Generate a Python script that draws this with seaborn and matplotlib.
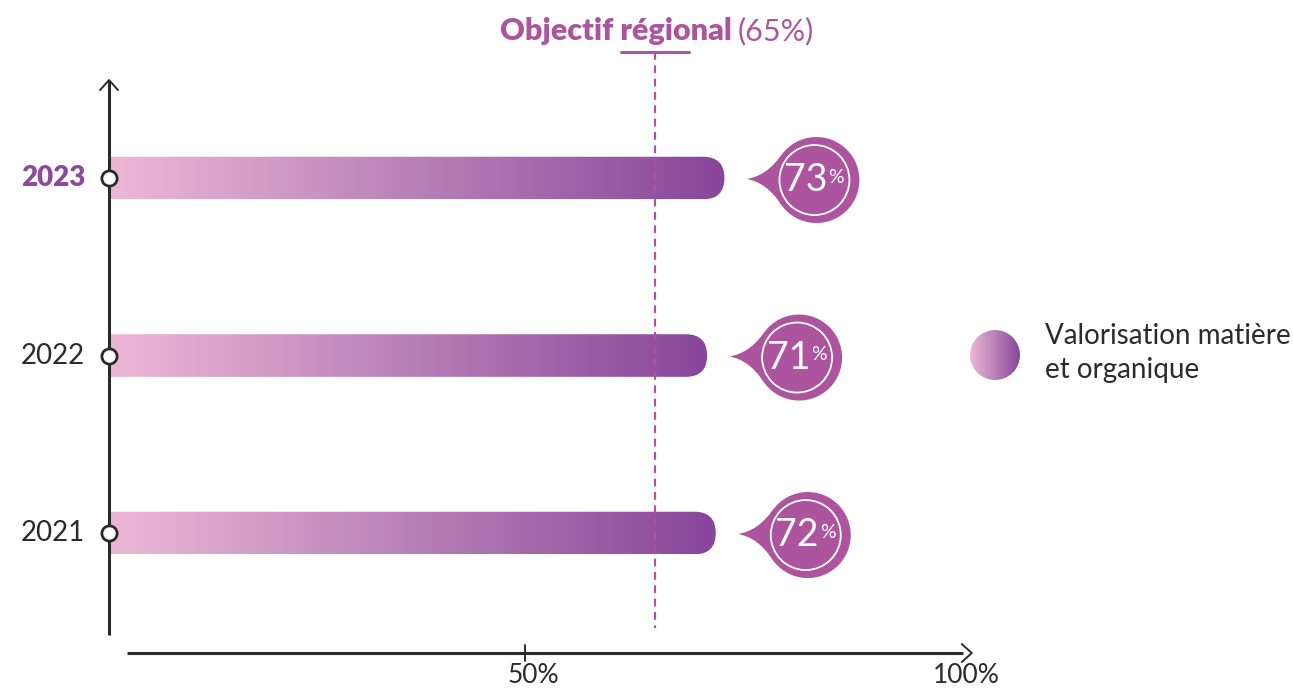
import matplotlib
matplotlib.use('Agg')
import matplotlib.pyplot as plt
import matplotlib.transforms as mtransforms
from matplotlib.patches import Circle, FancyBboxPatch, PathPatch
from matplotlib.path import Path
from matplotlib.colors import LinearSegmentedColormap
import numpy as np
import seaborn as sns

# données
years = ['2023', '2022', '2021']
rates = [73, 71, 72]
target = 65
x_ticks = [50, 100]
x_tick_labels = ['50%', '100%']
title_bold = 'Objectif régional'
title_rest = f'({target}%)'
legend_label = 'Valorisation matière\net organique'
highlight_year = '2023'

DPI = 100
W, H = 1293, 688
PURPLE = '#AD549F'
DARK_PURPLE = '#8D4A9C'
INK = '#2B2B2B'
bar_cmap = LinearSegmentedColormap.from_list('valo', ['#EDB8D7', '#B880B8', '#87469A'])

sns.set_theme(style='white')
plt.rcParams['font.family'] = ['Lato', 'DejaVu Sans']

fig = plt.figure(figsize=(W / DPI, H / DPI), dpi=DPI)
ax = fig.add_axes([0, 0, 1, 1])
sns.barplot(x=rates, y=years, order=years, orient='h', width=0.24,
            color=PURPLE, ax=ax)

XLIM = (-10.58, 138.6)
YLIM = (2.873, -1.003)
ax.set_xlim(*XLIM)
ax.set_ylim(*YLIM)
ax.axis('off')

AXIS_X = 2.0       # position de l'axe vertical
XAXIS_Y = 2.676    # position de l'axe horizontal


def at(x, y):
    '''transformation : décalage en pixels autour d'un point en données'''
    return (mtransforms.Affine2D().scale(1 / DPI) + fig.dpi_scale_trans
            + mtransforms.ScaledTranslation(x, y, ax.transData))


# axes avec flèches
ax.plot([AXIS_X, AXIS_X], [-0.552, 2.575], color=INK, lw=2.2, solid_capstyle='butt', zorder=3)
ax.plot([-9, 0, 9], [-10, 0, -10], color=INK, lw=1.4, transform=at(AXIS_X, -0.552), zorder=3)
ax.plot([4.07, 100.5], [XAXIS_Y, XAXIS_Y], color=INK, lw=2.2, solid_capstyle='butt', zorder=3)
ax.plot([-1, 9, -1], [9, 0, -9], color=INK, lw=1.4, transform=at(100.5, XAXIS_Y), zorder=3)
ax.plot([0, 0], [-8, 8], color=INK, lw=1.4, transform=at(x_ticks[0], XAXIS_Y), zorder=3)
for t, lab in zip(x_ticks, x_tick_labels):
    ax.annotate(lab, (t, XAXIS_Y), xytext=(8, -22), textcoords='offset pixels',
                ha='center', va='center', fontsize=19, color=INK)

# objectif régional
ax.plot([target, target], [-0.71, 2.535], color=PURPLE, lw=1.6, ls=(0, (3.5, 2.5)), zorder=4)
ax.plot([-34, 34], [0, 0], color=PURPLE, lw=2.2, transform=at(target, -0.71), zorder=4)
ax.annotate(title_bold, (target, -0.71), xytext=(77, 21), textcoords='offset pixels',
            ha='right', va='center', fontsize=22, fontweight='heavy', color=PURPLE)
ax.annotate(title_rest, (target, -0.71), xytext=(83, 21), textcoords='offset pixels',
            ha='left', va='center', fontsize=22, color=PURPLE)

# barres en dégradé + bulles
grad = np.linspace(0, 1, 256).reshape(1, -1)
for bar, yr, v in zip(ax.containers[0], years, rates):
    bar.set_visible(False)
    y0, h = bar.get_y(), bar.get_height()
    yc = y0 + h / 2
    xl, ya = ax.transData.transform((AXIS_X, y0))
    xr, yb = ax.transData.transform((bar.get_width(), y0 + h))
    r = abs(yb - ya) / 2
    box = FancyBboxPatch((xl - r, min(ya, yb)), xr - xl + r, 2 * r,
                         boxstyle=f'round,pad=0,rounding_size={r}',
                         transform=mtransforms.IdentityTransform(), facecolor='none', edgecolor='none')
    img = ax.imshow(grad, extent=(AXIS_X, v, y0 + h, y0), aspect='auto', cmap=bar_cmap, zorder=2)
    img.set_clip_path(box)

    tr = at(v, yc)
    cx, cy, R = 92, -2, 43
    a1, a2 = np.deg2rad(145), np.deg2rad(215)
    p1 = (cx + R * np.cos(a1), cy + R * np.sin(a1))
    p2 = (cx + R * np.cos(a2), cy + R * np.sin(a2))
    verts = [(22, -1), (42, 2), p1, (cx, cy), p2, (42, -4), (22, -1), (22, -1)]
    codes = [Path.MOVETO, Path.CURVE3, Path.CURVE3, Path.LINETO, Path.LINETO,
             Path.CURVE3, Path.CURVE3, Path.CLOSEPOLY]
    ax.add_patch(PathPatch(Path(verts, codes), facecolor=PURPLE, edgecolor='none', transform=tr, zorder=5))
    ax.add_patch(Circle((cx, cy), R, facecolor=PURPLE, edgecolor='none', transform=tr, zorder=5))
    ax.add_patch(Circle((cx - 2, cy), 35, facecolor='none', edgecolor='white', lw=1.3, transform=tr, zorder=6))
    ax.text(cx + 11, cy, f'{v}', transform=tr, ha='right', va='center', fontsize=27,
            color='white', zorder=7)
    ax.text(cx + 12, cy + 3, '%', transform=tr, ha='left', va='center', fontsize=14,
            color='white', zorder=7)

ax.set_xlim(*XLIM)
ax.set_ylim(*YLIM)

# marqueurs sur l'axe vertical + années
ypos = np.arange(len(years))
ax.scatter(np.full(len(years), AXIS_X), ypos, s=120, facecolor='white',
           edgecolor=INK, linewidth=2, zorder=6)
for i, yr in enumerate(years):
    bold = yr == highlight_year
    ax.annotate(yr, (AXIS_X, i), xytext=(-24, 0), textcoords='offset pixels',
                ha='right', va='center', fontsize=20,
                fontweight='heavy' if bold else 'normal',
                color=DARK_PURPLE if bold else INK)

# légende
lax = fig.add_axes([970 / W, 308 / H, 50 / W, 50 / H])
lax.set_xlim(0, 1)
lax.set_ylim(0, 1)
lax.axis('off')
limg = lax.imshow(grad, extent=(0, 1, 0, 1), aspect='auto', cmap=bar_cmap)
limg.set_clip_path(Circle((0.5, 0.5), 0.5, transform=lax.transData))
fig.text(1045 / W, 335 / H, legend_label, ha='left', va='center', fontsize=20,
         color=INK, linespacing=1.4)

fig.savefig('out.png', dpi=DPI)
plt.close(fig)
